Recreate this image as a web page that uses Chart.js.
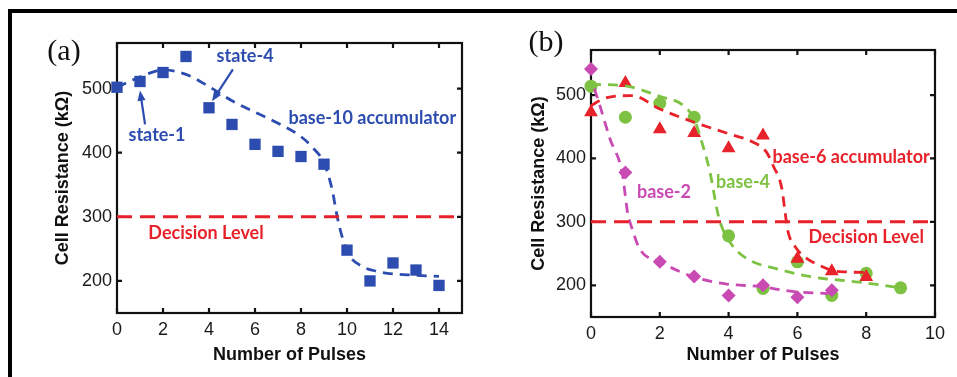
<!DOCTYPE html>
<html>
<head>
<meta charset="utf-8">
<script src="https://cdn.jsdelivr.net/npm/chart.js@4.4.1/dist/chart.umd.min.js"></script>
<style>
  body { margin: 0; background: #fff; }
  #wrap { position: relative; width: 957px; height: 377px; overflow: hidden; }
  #box { position: absolute; left: 8px; top: 9px; width: 960px; height: 380px;
         border-top: 4px solid #000; border-left: 4px solid #000; }
  canvas { position: absolute; top: 0; }
  #cA { left: 0; }
  #cB { left: 478px; }
</style>
</head>
<body>
<div id="wrap">
  <div id="box"></div>
  <canvas id="cA" width="478" height="377"></canvas>
  <canvas id="cB" width="479" height="377"></canvas>
</div>
<script>
// ---- panel (a): base-10 accumulator
var pulsesA = [0, 1, 2, 3, 4, 5, 6, 7, 8, 9, 10, 11, 12, 13, 14];
var base10 = [502, 511, 525, 550, 470, 444, 413, 402, 394, 382, 248, 200, 228, 217, 193];
var fit10X = [0, 1, 2, 3, 4, 5, 6, 7, 8, 8.5, 9, 9.35, 9.57, 9.78, 10.1, 10.7, 11.3, 12, 12.9, 14];
var fit10Y = [502, 518, 529, 522, 503, 481, 463, 446, 425, 408, 384, 343, 301, 270, 240, 222, 215, 211, 209, 207];
var xTicksA = [0, 2, 4, 6, 8, 10, 12, 14];

// ---- panel (b): base-2, base-4, base-6
var pulsesB2 = [0, 1, 2, 3, 4, 5, 6, 7];
var base2 = [541, 378, 237, 214, 184, 200, 181, 192];
var fit2X = [0.1, 0.26, 0.55, 0.9, 1.08, 1.13, 1.42, 2, 3, 3.95, 4.9, 5.9, 6.9];
var fit2Y = [510, 483, 431, 379, 309, 300, 257, 237, 213, 202, 198, 190, 187];

var pulsesB4 = [0, 1, 2, 3, 4, 5, 6, 7, 8, 9];
var base4 = [514, 465, 487, 465, 278, 195, 237, 184, 219, 196];
var fit4X = [0, 1.04, 2, 2.7, 3, 3.17, 3.46, 3.66, 3.75, 4.04, 4.53, 5.4, 6.45, 7.8, 9];
var fit4Y = [517, 514, 498, 483, 462, 435, 378, 320, 300, 268, 242, 226, 213, 205, 196];

var pulsesB6 = [0, 1, 2, 3, 4, 5, 6, 7, 8];
var base6 = [473, 519, 446, 440, 416, 436, 242, 222, 213];
var fit6X = [0, 0.35, 1.2, 2, 3, 4, 4.7, 5.1, 5.3, 5.55, 5.64, 5.73, 5.93, 6.28, 6.66, 7.04, 7.44, 8.1];
var fit6Y = [483, 494, 499, 478, 457, 439, 426, 410, 388, 352, 316, 284, 261, 242, 231, 223, 221, 220];
var xTicksB = [0, 2, 4, 6, 8, 10];

var yTicks = [200, 300, 400, 500];
var decisionLevel = 300;

var BLUE = '#2d4caf', RED = '#e8222a', GREEN = '#7dc242', MAGENTA = '#c94ab3';
var NOTE_FONT = 'bold 18px Lato, "Open Sans", sans-serif';
var AXIS_FONT = '"Liberation Sans", Arial, sans-serif';

function pts(xs, ys) {
    var out = [];
    for (var i = 0; i < xs.length; i++) out.push({x: xs[i], y: ys[i]});
    return out;
}

var frame = {
    id: 'frame',
    beforeDatasetsDraw: function(chart) {
        var ctx = chart.ctx, a = chart.chartArea, x = chart.scales.x, y = chart.scales.y;
        ctx.save();
        ctx.strokeStyle = '#111';
        ctx.lineWidth = 2.2;
        ctx.strokeRect(a.left, a.top, a.right - a.left, a.bottom - a.top);
        ctx.beginPath();
        x.ticks.forEach(function(t) {
            var px = x.getPixelForValue(t.value);
            ctx.moveTo(px, a.bottom); ctx.lineTo(px, a.bottom - 5);
            ctx.moveTo(px, a.top); ctx.lineTo(px, a.top + 5);
        });
        y.ticks.forEach(function(t) {
            var py = y.getPixelForValue(t.value);
            ctx.moveTo(a.left, py); ctx.lineTo(a.left + 5, py);
            ctx.moveTo(a.right, py); ctx.lineTo(a.right - 5, py);
        });
        ctx.stroke();
        ctx.restore();
    },
    afterDatasetsDraw: function(chart, args, opts) {
        var ctx = chart.ctx, x = chart.scales.x, y = chart.scales.y;
        ctx.save();
        ctx.textAlign = 'center';
        ctx.textBaseline = 'middle';
        (opts.notes || []).forEach(function(n) {
            ctx.fillStyle = n.color;
            ctx.font = NOTE_FONT;
            ctx.fillText(n.text, x.getPixelForValue(n.x), y.getPixelForValue(n.y));
        });
        (opts.arrows || []).forEach(function(ar) {
            var x0 = x.getPixelForValue(ar.from[0]), y0 = y.getPixelForValue(ar.from[1]);
            var x1 = x.getPixelForValue(ar.to[0]), y1 = y.getPixelForValue(ar.to[1]);
            var ang = Math.atan2(y1 - y0, x1 - x0);
            ctx.strokeStyle = ar.color;
            ctx.fillStyle = ar.color;
            ctx.lineWidth = 2.2;
            ctx.beginPath();
            ctx.moveTo(x0, y0);
            ctx.lineTo(x1 - 6 * Math.cos(ang), y1 - 6 * Math.sin(ang));
            ctx.stroke();
            ctx.beginPath();
            ctx.moveTo(x1, y1);
            ctx.lineTo(x1 - 11 * Math.cos(ang - 0.38), y1 - 11 * Math.sin(ang - 0.38));
            ctx.lineTo(x1 - 11 * Math.cos(ang + 0.38), y1 - 11 * Math.sin(ang + 0.38));
            ctx.closePath();
            ctx.fill();
        });
        if (opts.panel) {
            ctx.fillStyle = '#111';
            ctx.font = '30px "Liberation Serif", serif';
            ctx.fillText(opts.panel.text, opts.panel.x, opts.panel.y);
        }
        ctx.restore();
    }
};

function scatterSet(data, color, style, r) {
    return {type: 'scatter', data: data, backgroundColor: color, borderColor: color,
            pointStyle: style, pointRadius: r, pointHoverRadius: r, borderWidth: 0, clip: false};
}
function curveSet(data, color, dash, width) {
    return {type: 'scatter', data: data, showLine: true, borderColor: color, borderWidth: width,
            borderDash: dash, pointRadius: 0, cubicInterpolationMode: 'monotone', fill: false, clip: false};
}

function makeChart(id, cfg) {
    return new Chart(document.getElementById(id), {
        type: 'scatter',
        data: {datasets: cfg.datasets},
        plugins: [frame],
        options: {
            responsive: false,
            animation: false,
            layout: {padding: {left: 40, right: cfg.padRight, top: cfg.padTop, bottom: 6}},
            plugins: {
                legend: {display: false},
                tooltip: {enabled: false},
                frame: {notes: cfg.notes, arrows: cfg.arrows, panel: cfg.panel}
            },
            scales: {
                x: {
                    type: 'linear', min: 0, max: cfg.xMax,
                    afterBuildTicks: function(s) { s.ticks = cfg.xTicks.map(function(v) { return {value: v}; }); },
                    afterFit: function(s) { s.height = cfg.xHeight; },
                    grid: {display: false, drawTicks: false}, border: {display: false},
                    ticks: {color: '#1a1a1a', padding: 6, font: {family: AXIS_FONT, size: 18}},
                    title: {display: true, text: 'Number of Pulses', color: '#111', padding: {top: 0, bottom: 5},
                            font: {family: AXIS_FONT, size: 18, weight: 'bold'}}
                },
                y: {
                    type: 'linear', min: 150, max: 571,
                    afterBuildTicks: function(s) { s.ticks = yTicks.map(function(v) { return {value: v}; }); },
                    afterFit: function(s) { s.width = cfg.yWidth; },
                    grid: {display: false, drawTicks: false}, border: {display: false},
                    ticks: {color: '#1a1a1a', padding: 5, font: {family: AXIS_FONT, size: 18}},
                    title: {display: true, text: 'Cell Resistance (kΩ)', color: '#111', padding: {top: cfg.yTitlePad, bottom: 0},
                            font: {family: AXIS_FONT, size: 18, weight: 'bold'}}
                }
            }
        }
    });
}

makeChart('cA', {
    xMax: 15, xTicks: xTicksA, padRight: 16, padTop: 43, xHeight: 58, yWidth: 77, yTitlePad: 12,
    datasets: [
        curveSet([{x: 0, y: decisionLevel}, {x: 15, y: decisionLevel}], RED, [15, 8], 3),
        curveSet(pts(fit10X, fit10Y), BLUE, [10, 7], 2.8),
        scatterSet(pts(pulsesA, base10), BLUE, 'rect', 8)
    ],
    notes: [
        {text: 'state-4', x: 5.57, y: 550, color: BLUE},
        {text: 'state-1', x: 1.74, y: 428, color: BLUE},
        {text: 'base-10 accumulator', x: 11.1, y: 453, color: BLUE},
        {text: 'Decision Level', x: 3.87, y: 275, color: RED}
    ],
    arrows: [
        {from: [5.04, 530], to: [4.13, 480], color: BLUE},
        {from: [1.22, 444], to: [1.0, 497], color: BLUE}
    ],
    panel: {text: '(a)', x: 64, y: 52}
});

makeChart('cB', {
    xMax: 10, xTicks: xTicksB, padRight: 22, padTop: 50, xHeight: 54, yWidth: 73, yTitlePad: 10,
    datasets: [
        curveSet([{x: 0, y: decisionLevel}, {x: 10, y: decisionLevel}], RED, [15, 8], 3),
        curveSet(pts(fit2X, fit2Y), MAGENTA, [10, 7], 2.8),
        curveSet(pts(fit6X, fit6Y), RED, [10, 7], 2.8),
        curveSet(pts(fit4X, fit4Y), GREEN, [10, 7], 2.8),
        scatterSet(pts(pulsesB2, base2), MAGENTA, 'rectRot', 7),
        scatterSet(pts(pulsesB6, base6), RED, 'triangle', 8),
        scatterSet(pts(pulsesB4, base4), GREEN, 'circle', 6.5)
    ],
    notes: [
        {text: 'base-6 accumulator', x: 7.56, y: 402, color: RED},
        {text: 'base-4', x: 4.42, y: 363, color: GREEN},
        {text: 'base-2', x: 2.12, y: 347, color: MAGENTA},
        {text: 'Decision Level', x: 8.0, y: 276, color: RED}
    ],
    arrows: [],
    panel: {text: '(b)', x: 68, y: 43}
});
</script>
</body>
</html>
